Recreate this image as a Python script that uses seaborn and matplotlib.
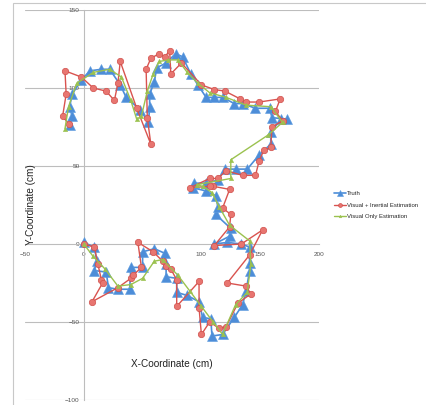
import seaborn as sns
import matplotlib.pyplot as plt
import matplotlib.patches as mpatches
import pandas as pd

sns.set_style("white")
plt.rcParams['font.family'] = ['Liberation Sans', 'DejaVu Sans']

# Truth path (cm)
truth_x = [0, 9, 11, 9, 19, 21, 29, 39, 40, 50, 50, 60, 69, 70, 70, 79, 79, 88, 98, 101,
           108, 109, 118, 128, 135, 138, 141, 141, 141, 134, 122, 111, 124, 125, 112, 114,
           112, 104, 93, 94, 104, 114, 120, 129, 139, 149, 159, 159, 168, 173, 160, 158,
           146, 135, 128, 118, 111, 104, 97, 91, 84, 78, 70, 62, 60, 56, 56, 55, 48, 36,
           31, 22, 15, 5, -2, -10, -12, -10, -12]
truth_y = [1, -2, -11, -17, -18, -28, -29, -29, -15, -15, -5, -3, -6, -13, -21, -22, -31,
           -33, -37, -47, -48, -59, -58, -47, -39, -30, -17, -12, -2, 0, 1, 0, 5, 10, 19,
           24, 31, 34, 36, 39, 39, 41, 48, 48, 48, 57, 64, 72, 80, 80, 81, 87, 87, 90, 90,
           94, 94, 94, 102, 109, 120, 122, 116, 113, 104, 96, 88, 78, 86, 94, 102, 112,
           112, 111, 105, 96, 88, 82, 76]

# Visual + Inertial estimation
vi_x = [0, 9, 12, 15, 16, 7, 29, 40, 42, 49, 46, 59, 67, 70, 74, 79, 79, 98, 98, 100,
        107, 115, 121, 131, 142, 138, 122, 141, 152, 134, 111, 124, 125, 118, 124, 110,
        107, 90, 107, 114, 121, 135, 146, 149, 153, 159, 160, 169, 163, 167, 149, 138,
        133, 120, 111, 100, 83, 74, 73, 69, 64, 57, 53, 54, 57, 45, 31, 29, 26, 19, 8,
        -2, -16, -15, -18, -13]
vi_y = [0, -2, -13, -23, -25, -37, -28, -22, -20, -15, 1, -5, -11, -14, -16, -23, -40,
        -24, -41, -58, -50, -54, -53, -38, -32, -27, -25, -7, 9, 0, -1, 11, 19, 23, 35,
        37, 37, 36, 42, 42, 47, 44, 44, 53, 60, 62, 75, 79, 85, 93, 91, 91, 93, 98, 99,
        102, 116, 109, 124, 120, 122, 119, 112, 81, 64, 87, 117, 103, 92, 98, 100, 107,
        111, 96, 82, 77]

# Visual only estimation
vo_x = [0, 8, 18, 29, 40, 50, 60, 67, 80, 90, 100, 110, 118, 129, 139, 142, 141, 124,
        115, 109, 101, 96, 125, 125, 157, 169, 159, 138, 121, 107, 97, 88, 80, 72, 64,
        59, 54, 49, 45, 40, 32, 22, 8, -6, -13, -16]
vo_y = [0, -8, -16, -27, -26, -22, -11, -10, -20, -30, -40, -50, -58, -39, -31, -13, 2,
        12, 24, 33, 37, 38, 42, 54, 70, 78, 88, 89, 94, 97, 103, 110, 118, 118, 117,
        109, 98, 82, 80, 92, 107, 112, 110, 103, 88, 74]

fig = plt.figure(figsize=(4.26, 4.05), dpi=100)
ax = fig.add_axes([25 / 426, 1 - 400 / 405, 294 / 426, 390 / 405])

# chart border (only left/top edges fall inside the image)
fig.patches.append(mpatches.Rectangle((13 / 426, -0.1), 1.2, 1 - 3 / 405 + 0.1,
                                      transform=fig.transFigure, fill=False,
                                      edgecolor="#c8c8c8", linewidth=0.8))

sns.lineplot(x=truth_x, y=truth_y, sort=False, estimator=None, ax=ax, color="#4d8dd8",
             marker="^", markersize=6.8, markeredgecolor="#5c9be0", markeredgewidth=0.4,
             linewidth=1.2, label="Truth", zorder=3)
sns.lineplot(x=vi_x, y=vi_y, sort=False, estimator=None, ax=ax, color="#d9534f",
             marker="o", markersize=4.6, markerfacecolor="#e87570",
             markeredgecolor="#d0504c", markeredgewidth=0.5,
             linewidth=1.0, label="Visual + Inertial Estimation", zorder=4)
sns.lineplot(x=vo_x, y=vo_y, sort=False, estimator=None, ax=ax, color="#9bc24f",
             marker="^", markersize=3.2, markeredgecolor="#9bc24f", markeredgewidth=0.3,
             linewidth=1.0, label="Visual Only Estimation", zorder=5)

ax.set_xlim(-50, 200)
ax.set_ylim(-100, 150)
ax.set_xticks([-50, 0, 50, 100, 150, 200])
ax.set_yticks([-100, -50, 0, 50, 100, 150])
ax.set_axisbelow(True)
for y in [-100, -50, 50, 100, 150]:
    ax.axhline(y, color="#bdbdbd", linewidth=0.8, zorder=0.5)

for side in ["top", "right"]:
    ax.spines[side].set_visible(False)
ax.spines["left"].set_position(("data", 0))
ax.spines["bottom"].set_position(("data", 0))
for side in ["left", "bottom"]:
    ax.spines[side].set_color("#bdbdbd")
    ax.spines[side].set_linewidth(0.8)
ax.tick_params(axis="y", length=0, pad=3, labelsize=4.6, labelcolor="#555555")
ax.tick_params(axis="x", length=0, pad=6, labelsize=4.6, labelcolor="#555555")

fig.text(172 / 426, 1 - 364 / 405, "X-Coordinate (cm)", ha="center", va="center",
         fontsize=7.2, color="#222222")
fig.text(31 / 426, 1 - 205 / 405, "Y-Coordinate (cm)", ha="center", va="center",
         rotation=90, fontsize=7.2, color="#222222")

ax.legend(loc="center left", bbox_to_anchor=(331 / 426, 1 - 205 / 405),
          bbox_transform=fig.transFigure, frameon=False, fontsize=4.3,
          handlelength=2.0, handletextpad=0.2, labelspacing=1.1, borderpad=0,
          markerscale=0.6)

fig.savefig("out.png", dpi=100)
